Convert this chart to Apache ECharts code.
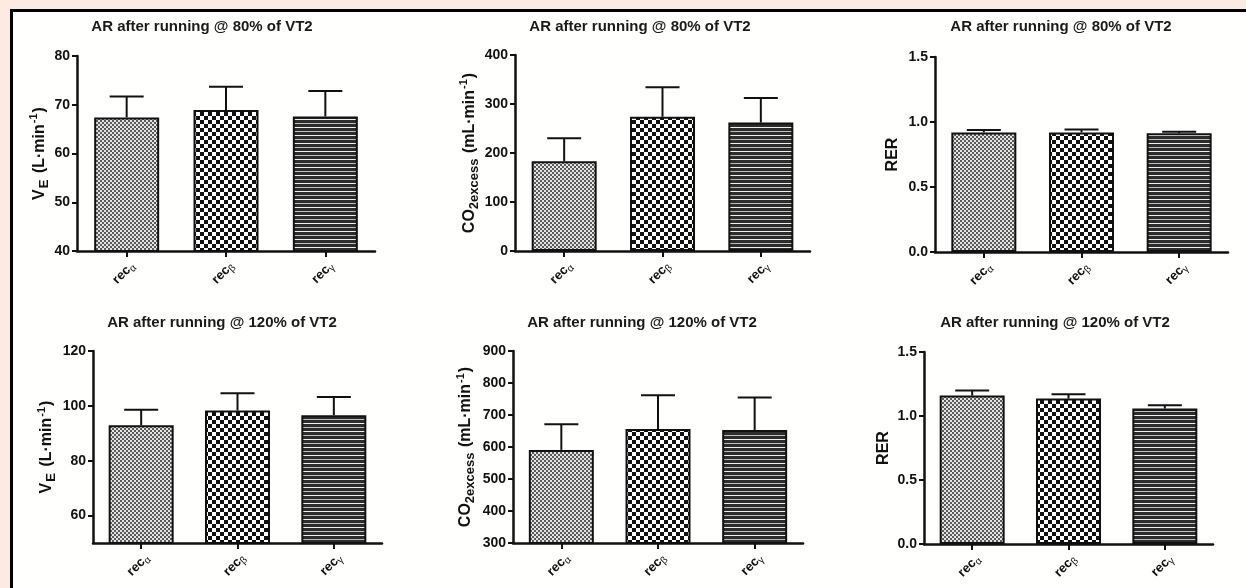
<!DOCTYPE html>
<html>
<head>
<meta charset="utf-8">
<script src="https://cdn.jsdelivr.net/npm/echarts@6/dist/echarts.min.js"></script>
<style>
  html, body { margin: 0; padding: 0; width: 1246px; height: 588px; overflow: hidden; background: #fdebe1; }
  #frame { position: absolute; left: 10px; top: 9px; right: 0; bottom: 0; border-top: 3px solid #000; border-left: 3px solid #000; background: #fffffd; }
  #chart { position: absolute; left: 0; top: 0; width: 1246px; height: 588px; }
</style>
</head>
<body>
<div id="frame"></div>
<div id="chart"></div>
<script>
// ---------- data ----------
const categories = ['α', 'β', 'γ'];
const titleTop = 'AR after running @ 80% of VT2';
const titleBottom = 'AR after running @ 120% of VT2';

const ve80Mean = [67.4, 68.9, 67.6];
const ve80Sd = [4.3, 4.8, 5.2];
const co2_80Mean = [183, 274, 262];
const co2_80Sd = [47, 60, 50];
const rer80Mean = [0.92, 0.92, 0.913];
const rer80Sd = [0.018, 0.023, 0.012];

const ve120Mean = [92.9, 98.3, 96.6];
const ve120Sd = [5.7, 6.3, 6.6];
const co2_120Mean = [591, 656, 653];
const co2_120Sd = [80, 106, 102];
const rer120Mean = [1.16, 1.136, 1.058];
const rer120Sd = [0.039, 0.034, 0.026];

const ve80Range = [40, 80];   const ve80Ticks = [40, 50, 60, 70, 80];
const co2_80Range = [0, 400]; const co2_80Ticks = [0, 100, 200, 300, 400];
const rer80Range = [0, 1.5];  const rer80Ticks = [0, 0.5, 1.0, 1.5];
const ve120Range = [50, 120]; const ve120Ticks = [60, 80, 100, 120];
const co2_120Range = [300, 900]; const co2_120Ticks = [300, 400, 500, 600, 700, 800, 900];
const rer120Range = [0, 1.5]; const rer120Ticks = [0, 0.5, 1.0, 1.5];

const nameVE = '{n|V}{sub|E}{n| (L·min}{sup|-1}{n|)}';
const nameCO2 = '{n|CO}{sub2|2excess}{n| (mL·min}{sup|-1}{n|)}';
const nameRER = '{n|RER}';

// ---------- styles ----------
const FONT = "'Liberation Sans', Arial, sans-serif";
const INK = '#111';

function makePattern(w, h, draw) {
  const c = document.createElement('canvas');
  c.width = w; c.height = h;
  const ctx = c.getContext('2d');
  draw(ctx);
  return { image: c, repeat: 'repeat' };
}
const patterns = [
  makePattern(4, 4, ctx => {
    ctx.fillStyle = '#e4e4e4'; ctx.fillRect(0, 0, 4, 4);
    ctx.fillStyle = '#5a5a5a'; ctx.fillRect(0, 0, 2, 2); ctx.fillRect(2, 2, 2, 2);
  }),
  makePattern(8, 8, ctx => {
    ctx.fillStyle = '#fff'; ctx.fillRect(0, 0, 8, 8);
    ctx.fillStyle = '#111'; ctx.fillRect(0, 0, 4, 4); ctx.fillRect(4, 4, 4, 4);
  }),
  makePattern(4, 8, ctx => {
    ctx.fillStyle = '#2c2c2c'; ctx.fillRect(0, 0, 4, 8);
    ctx.fillStyle = '#bdbdbd'; ctx.fillRect(0, 3, 4, 1);
    ctx.fillStyle = '#f0f0f0'; ctx.fillRect(0, 7, 4, 1);
  })
];

const panels = [
  { title: titleTop, name: nameVE, mean: ve80Mean, sd: ve80Sd, range: ve80Range, ticks: ve80Ticks, dec: 0,
    grid: { left: 77, top: 56, width: 298, height: 195 }, gap: 21, tx: 202, ty: 27 },
  { title: titleTop, name: nameCO2, mean: co2_80Mean, sd: co2_80Sd, range: co2_80Range, ticks: co2_80Ticks, dec: 0,
    grid: { left: 515, top: 55, width: 295, height: 196 }, gap: 33, tx: 640, ty: 27 },
  { title: titleTop, name: nameRER, mean: rer80Mean, sd: rer80Sd, range: rer80Range, ticks: rer80Ticks, dec: 1,
    grid: { left: 935, top: 57, width: 293, height: 195 }, gap: 31, tx: 1061, ty: 27 },
  { title: titleBottom, name: nameVE, mean: ve120Mean, sd: ve120Sd, range: ve120Range, ticks: ve120Ticks, dec: 0,
    grid: { left: 93, top: 351, width: 289, height: 192 }, gap: 35, tx: 222, ty: 323 },
  { title: titleBottom, name: nameCO2, mean: co2_120Mean, sd: co2_120Sd, range: co2_120Range, ticks: co2_120Ticks, dec: 0,
    grid: { left: 513, top: 351, width: 290, height: 192 }, gap: 36, tx: 642, ty: 323 },
  { title: titleBottom, name: nameRER, mean: rer120Mean, sd: rer120Sd, range: rer120Range, ticks: rer120Ticks, dec: 1,
    grid: { left: 924, top: 352, width: 289, height: 192 }, gap: 29, tx: 1055, ty: 323 }
];

const grids = [], xAxes = [], yAxes = [], series = [], graphics = [];
panels.forEach((p, k) => {
  grids.push(Object.assign({ containLabel: false }, p.grid));
  xAxes.push({
    type: 'category', gridIndex: k, data: categories, boundaryGap: true,
    axisLine: { show: true, lineStyle: { color: INK, width: 2.5 } },
    axisTick: { show: true, alignWithLabel: true, length: 6, lineStyle: { color: INK, width: 2 } },
    axisLabel: {
      rotate: 45, margin: 7, color: INK, fontFamily: FONT, verticalAlign: 'top',
      formatter: v => '{a|rec}{s|' + v + '}',
      rich: {
        a: { fontSize: 13, fontWeight: 'bold', fontFamily: FONT, color: INK, padding: [2, 0, 2, 0], verticalAlign: 'middle' },
        s: { fontSize: 10, fontFamily: FONT, color: INK, verticalAlign: 'bottom' }
      }
    },
    splitLine: { show: false }
  });
  yAxes.push({
    type: 'value', gridIndex: k, min: p.range[0], max: p.range[1],
    axisLine: { show: true, lineStyle: { color: INK, width: 2.5 } },
    axisTick: { show: true, length: 5, lineStyle: { color: INK, width: 2 }, customValues: p.ticks },
    axisLabel: {
      customValues: p.ticks, margin: 7, color: INK, fontSize: 14, fontWeight: 'bold', fontFamily: FONT,
      formatter: v => Number(v).toFixed(p.dec)
    },
    splitLine: { show: false },
    name: p.name, nameLocation: 'middle', nameRotate: 90, nameGap: p.gap,
    nameTextStyle: {
      fontFamily: FONT, color: INK,
      rich: {
        n: { fontSize: 16, fontWeight: 'bold', fontFamily: FONT, color: INK, padding: [3, 0, 3, 0], verticalAlign: 'middle' },
        sub: { fontSize: 13, fontWeight: 'bold', fontFamily: FONT, color: INK, verticalAlign: 'bottom', padding: [0, 2, 0, 1] },
        sub2: { fontSize: 13, fontWeight: 'bold', fontFamily: FONT, color: INK, verticalAlign: 'bottom', padding: [0, 1, 0, 0] },
        sup: { fontSize: 11, fontWeight: 'bold', fontFamily: FONT, color: INK, verticalAlign: 'top', padding: [0, 1, 0, 1] }
      }
    }
  });
  series.push({
    type: 'custom', xAxisIndex: k, yAxisIndex: k, z: 1,
    data: p.mean.map((m, i) => [i, m, m + p.sd[i]]),
    renderItem: (params, api) => {
      const a = api.coord([api.value(0), api.value(1)]);
      const b = api.coord([api.value(0), api.value(2)]);
      const hw = 17;
      const st = { stroke: INK, lineWidth: 2 };
      return { type: 'group', children: [
        { type: 'line', shape: { x1: a[0], y1: a[1], x2: b[0], y2: b[1] }, style: st },
        { type: 'line', shape: { x1: b[0] - hw, y1: b[1], x2: b[0] + hw, y2: b[1] }, style: st }
      ] };
    }
  });
  series.push({
    type: 'bar', xAxisIndex: k, yAxisIndex: k, z: 2, barWidth: 65,
    data: p.mean.map((m, i) => ({ value: m, itemStyle: { color: patterns[i], borderColor: INK, borderWidth: 2 } })),
    emphasis: { disabled: true }
  });
  graphics.push({
    type: 'text', x: p.tx, y: p.ty,
    style: { text: p.title, font: "bold 15px 'Liberation Sans', Arial, sans-serif", fill: '#1a1a1a',
             align: 'center', verticalAlign: 'middle', textAlign: 'center', textVerticalAlign: 'middle' }
  });
});

const chart = echarts.init(document.getElementById('chart'), null, { renderer: 'canvas' });
chart.setOption({
  animation: false,
  backgroundColor: 'transparent',
  grid: grids, xAxis: xAxes, yAxis: yAxes, series: series,
  graphic: graphics
});
</script>
</body>
</html>
